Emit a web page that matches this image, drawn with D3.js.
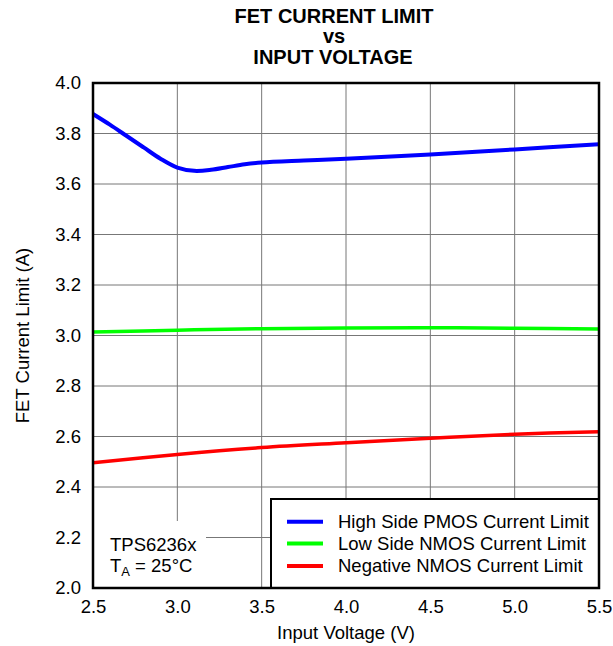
<!DOCTYPE html>
<html><head><meta charset="utf-8">
<script src="https://cdn.jsdelivr.net/npm/d3@7"></script>
<style>body{margin:0;background:#fff}svg{display:block}text{font-family:"Liberation Sans",Arial,sans-serif}</style>
</head><body><svg id="c" width="613" height="646"></svg>
<script>
const xTicks = [2.5, 3.0, 3.5, 4.0, 4.5, 5.0, 5.5];
const yTicks = [2.0, 2.2, 2.4, 2.6, 2.8, 3.0, 3.2, 3.4, 3.6, 3.8, 4.0];
const seriesNames = ["High Side PMOS Current Limit", "Low Side NMOS Current Limit", "Negative NMOS Current Limit"];
const seriesColors = ["#0000ff", "#00ff00", "#ff0000"];
const highSideV = [2.5, 2.6, 2.7, 2.8, 2.9, 3.0, 3.1, 3.2, 3.3, 3.4, 3.5, 3.75, 4.0, 4.5, 5.0, 5.5];
const highSideI = [3.877, 3.835, 3.79, 3.745, 3.70, 3.665, 3.652, 3.656, 3.667, 3.678, 3.685, 3.693, 3.700, 3.717, 3.737, 3.757];
const lowSideV = [2.5, 3.0, 3.5, 4.0, 4.5, 5.0, 5.5];
const lowSideI = [3.014, 3.021, 3.027, 3.030, 3.031, 3.029, 3.026];
const negV = [2.5, 3.0, 3.5, 4.0, 4.5, 5.0, 5.5];
const negI = [2.496, 2.529, 2.556, 2.575, 2.593, 2.609, 2.619];

const svg = d3.select("#c");
const L = 93, R = 599, T = 83, B = 588;
const FS = "18.5px";
const x = d3.scaleLinear().domain([2.5, 5.5]).range([L, R]);
const y = d3.scaleLinear().domain([2.0, 4.0]).range([B, T]);

// title
const title = svg.append("text").attr("text-anchor", "middle")
  .style("font-weight", "bold").style("font-size", "20px");
title.append("tspan").attr("x", 334).attr("y", 22.5).text("FET CURRENT LIMIT");
title.append("tspan").attr("x", 334).attr("y", 43).text("vs");
title.append("tspan").attr("x", 333).attr("y", 63.5).text("INPUT VOLTAGE");

// grid
const g = svg.append("g");
g.selectAll("line.v").data(xTicks.slice(1, -1)).join("line")
  .attr("x1", d => x(d)).attr("x2", d => x(d)).attr("y1", T).attr("y2", B)
  .attr("stroke", "#777").attr("stroke-width", 1);
g.selectAll("line.h").data(yTicks.slice(1, -1)).join("line")
  .attr("y1", d => y(d)).attr("y2", d => y(d)).attr("x1", L).attr("x2", R)
  .attr("stroke", "#777").attr("stroke-width", 1);

// axes (labels only)
const xAxis = d3.axisBottom(x).tickValues(xTicks).tickFormat(d3.format(".1f")).tickSize(0).tickPadding(12);
const yAxis = d3.axisLeft(y).tickValues(yTicks).tickFormat(d3.format(".1f")).tickSize(0).tickPadding(12);
const gx = svg.append("g").attr("transform", `translate(0,${B})`).call(xAxis);
const gy = svg.append("g").attr("transform", `translate(${L},0)`).call(yAxis);
[gx, gy].forEach(a => { a.select(".domain").remove(); a.selectAll("text").style("font-size", FS).attr("fill", "#000").style("font-family", '"Liberation Sans",Arial,sans-serif'); });
gx.selectAll("text").attr("dy", "0.71em");

svg.append("text").attr("x", 346).attr("y", 639).attr("text-anchor", "middle")
  .style("font-size", FS).text("Input Voltage (V)");
svg.append("text").attr("transform", `translate(28.5,${(T + B) / 2}) rotate(-90)`).attr("text-anchor", "middle")
  .style("font-size", FS).text("FET Current Limit (A)");

// lines
const line = d3.line().x(d => x(d[0])).y(d => y(d[1])).curve(d3.curveCatmullRom.alpha(0.5));
const data = [
  d3.zip(highSideV, highSideI),
  d3.zip(lowSideV, lowSideI),
  d3.zip(negV, negI)
];
svg.append("defs").append("clipPath").attr("id", "clip").append("rect")
  .attr("x", L).attr("y", T).attr("width", R - L).attr("height", B - T);
svg.append("g").attr("clip-path", "url(#clip)").selectAll("path").data(data).join("path")
  .attr("d", line).attr("fill", "none")
  .attr("stroke", (d, i) => seriesColors[i]).attr("stroke-width", (d, i) => i === 0 ? 4 : 3.5);

// annotation mask
svg.append("rect").attr("x", L).attr("y", 521).attr("width", 206 - L).attr("height", B - 521).attr("fill", "#fff");
const ann = svg.append("text").style("font-size", FS);
ann.append("tspan").attr("x", 110).attr("y", 551).text("TPS6236x");
const ann2 = svg.append("text").attr("x", 110).attr("y", 572).style("font-size", FS);
ann2.append("tspan").text("T");
ann2.append("tspan").attr("dy", 4).style("font-size", "13px").text("A");
ann2.append("tspan").attr("dy", -4).text(" = 25°C");

// legend
const lg = svg.append("g");
lg.append("rect").attr("x", 271).attr("y", 499).attr("width", R - 271).attr("height", B - 499)
  .attr("fill", "#fff").attr("stroke", "#000").attr("stroke-width", 2);
const rows = [521.7, 543.5, 566];
seriesNames.forEach((n, i) => {
  lg.append("line").attr("x1", 287).attr("x2", 323).attr("y1", rows[i]).attr("y2", rows[i])
    .attr("stroke", seriesColors[i]).attr("stroke-width", 4);
  lg.append("text").attr("x", 338).attr("y", rows[i] + 6).style("font-size", FS).text(n);
});

// frame
svg.append("rect").attr("x", L).attr("y", T).attr("width", R - L).attr("height", B - T)
  .attr("fill", "none").attr("stroke", "#000").attr("stroke-width", 2.5);
</script></body></html>
